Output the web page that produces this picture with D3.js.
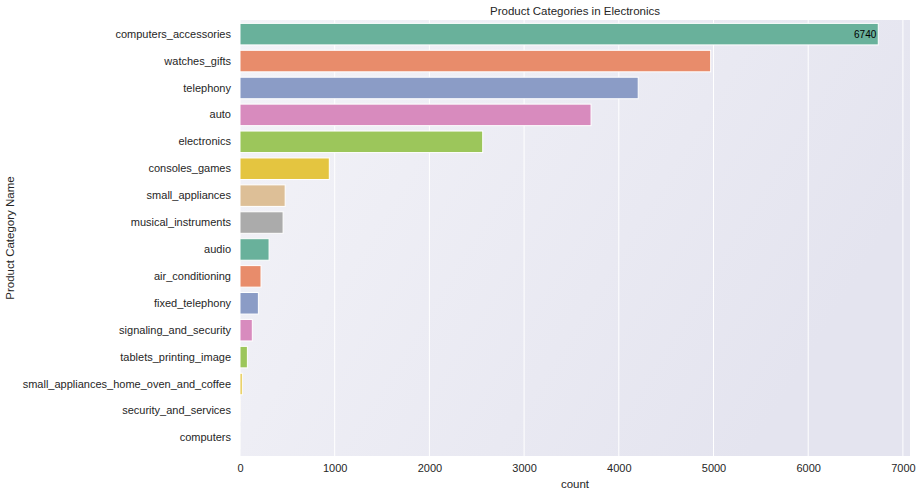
<html>
<head>
<style>
  body { margin: 0; font-family: "Liberation Sans", Arial, sans-serif; background: white; }
</style>
<script src="https://cdn.jsdelivr.net/npm/d3@7"></script>
</head>
<body>
<svg id="chart" width="921" height="496"></svg>
<script>
let categories = ["computers_accessories", "watches_gifts", "telephony", "auto", "electronics",
  "consoles_games", "small_appliances", "musical_instruments", "audio", "air_conditioning",
  "fixed_telephony", "signaling_and_security", "tablets_printing_image",
  "small_appliances_home_oven_and_coffee", "security_and_services", "computers"];
let counts = [6740, 4970, 4205, 3707, 2563, 943, 477, 455, 307, 222, 194, 130, 78, 24, 3, 1];
let palette = ["#69b19b", "#e88c6b", "#8b9cc6", "#d88bbe", "#9cc65b", "#e4c540", "#ddbf97", "#ababab"];
let xTicks = [0, 1000, 2000, 3000, 4000, 5000, 6000, 7000];

let margin = { top: 20, right: 11, bottom: 40, left: 240 };
let width = 921, height = 496;
let bodyWidth = width - margin.left - margin.right;
let bodyHeight = height - margin.top - margin.bottom;

let svg = d3.select("#chart");
let defs = svg.append("defs");
let grad = defs.append("linearGradient").attr("id", "bg")
  .attr("x1", "0").attr("y1", "0").attr("x2", "1").attr("y2", "0.4");
grad.append("stop").attr("offset", "0").attr("stop-color", "#f3f3f8");
grad.append("stop").attr("offset", "1").attr("stop-color", "#e4e4ef");

let g = svg.append("g").attr("transform", "translate(" + [margin.left, margin.top] + ")");

let x = d3.scaleLinear().domain([0, 7075]).range([0, bodyWidth]);
let y = d3.scaleBand().domain(categories).range([-2, bodyHeight - 2]).padding(0.2);

g.append("rect").attr("width", bodyWidth).attr("height", bodyHeight).attr("fill", "url(#bg)");

g.selectAll(".grid").data(xTicks).enter().append("line")
  .attr("x1", d => x(d)).attr("x2", d => x(d))
  .attr("y1", 0).attr("y2", bodyHeight)
  .attr("stroke", "white").attr("stroke-width", 1);

g.selectAll(".bar").data(categories).enter().append("rect")
  .attr("x", 0)
  .attr("y", d => y(d))
  .attr("height", y.bandwidth())
  .attr("width", (d, i) => x(counts[i]))
  .attr("fill", (d, i) => palette[i % palette.length])
  .attr("stroke", "white").attr("stroke-width", 1);

g.append("text")
  .attr("x", x(counts[0]) - 2)
  .attr("y", y(categories[0]) + y.bandwidth() / 2)
  .attr("dy", "0.35em").attr("text-anchor", "end")
  .attr("font-size", 10).attr("fill", "black")
  .text(counts[0]);

let axisX = g.append("g").attr("transform", "translate(0," + bodyHeight + ")")
  .call(d3.axisBottom(x).tickValues(xTicks).tickFormat(d3.format("d")).tickSize(0).tickPadding(8));
axisX.select(".domain").remove();
axisX.selectAll("text").attr("font-size", 11).attr("fill", "#262626");

let axisY = g.append("g").call(d3.axisLeft(y).tickSize(0).tickPadding(9));
axisY.select(".domain").remove();
axisY.selectAll("text").attr("font-size", 11).attr("fill", "#262626");

svg.append("text").attr("x", margin.left + bodyWidth / 2).attr("y", 15)
  .attr("text-anchor", "middle").attr("font-size", 11.5).attr("fill", "#262626")
  .text("Product Categories in Electronics");
svg.append("text").attr("x", margin.left + bodyWidth / 2).attr("y", 488)
  .attr("text-anchor", "middle").attr("font-size", 11.5).attr("fill", "#262626")
  .text("count");
svg.append("text").attr("transform", "translate(14," + (margin.top + bodyHeight / 2) + ") rotate(-90)")
  .attr("text-anchor", "middle").attr("font-size", 11.5).attr("fill", "#262626")
  .text("Product Category Name");
</script>
</body>
</html>
